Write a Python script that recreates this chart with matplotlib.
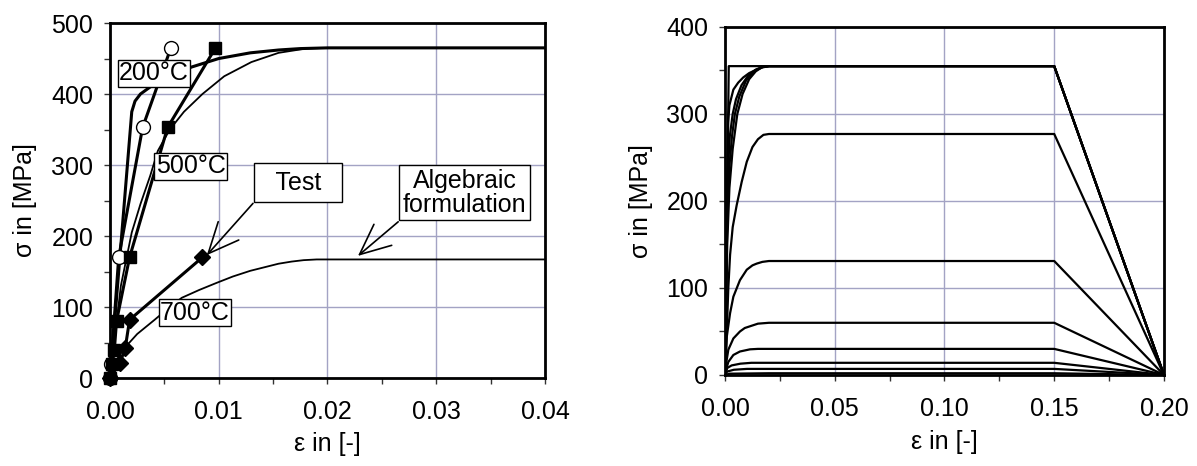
import numpy as np
import matplotlib.pyplot as plt
from matplotlib.ticker import MultipleLocator, FormatStrFormatter

plt.rcParams['font.family'] = ['Liberation Sans', 'DejaVu Sans']
plt.rcParams['font.size'] = 18

# ---- left panel: tests vs algebraic formulation ----
# test data (strain, stress MPa)
test200_eps = [0, 0.0001, 0.0008, 0.0030, 0.0056]
test200_sig = [0, 20, 170, 353, 465]
test500_eps = [0, 0.0002, 0.0004, 0.0006, 0.0018, 0.0053, 0.0097]
test500_sig = [0, 20, 40, 80, 170, 353, 465]
test700_eps = [0, 0.0009, 0.0014, 0.0018, 0.0085]
test700_sig = [0, 21, 42, 82, 170]

# algebraic formulation curves
alg200_eps = [0, 0.0020, 0.0023, 0.0028, 0.0037, 0.0050, 0.0075, 0.0100, 0.0129, 0.0155, 0.0175, 0.0200, 0.0400]
alg200_sig = [0, 375, 390, 400, 410, 422, 438, 450, 458, 462, 464, 465, 465]
alg500_eps = [0, 0.0010, 0.0020, 0.0028, 0.0037, 0.0044, 0.0055, 0.0068, 0.0085, 0.0105, 0.0130, 0.0155, 0.0180, 0.0200, 0.0400]
alg500_sig = [0, 130, 205, 245, 285, 320, 350, 375, 400, 425, 445, 458, 464, 465, 465]
alg700_eps = [0, 0.0004, 0.0012, 0.0025, 0.0041, 0.0055, 0.0066, 0.0082, 0.0098, 0.0113, 0.0129, 0.0142, 0.0155, 0.0167, 0.0178, 0.0190, 0.0200, 0.0400]
alg700_sig = [0, 20, 40, 62, 82, 100, 113, 124, 134, 143, 151, 156, 161, 164, 166, 167, 167, 167]

# ---- right panel: stress-strain family ----
tail_eps = [0.15, 0.20]
right_curves = [
    ([0, 0.0017, 0.02], [0, 355, 355]),
    ([0, 0.0014, 0.0020, 0.0038, 0.0060, 0.0083, 0.0110, 0.0144, 0.0170, 0.0200],
     [0, 290, 310, 328, 336, 342, 347, 351, 353.5, 355]),
    ([0, 0.0012, 0.0022, 0.0035, 0.0050, 0.0075, 0.0105, 0.0140, 0.0170, 0.0200],
     [0, 230, 275, 300, 317, 333, 344, 351, 354, 355]),
    ([0, 0.0010, 0.0020, 0.0032, 0.0045, 0.0065, 0.0095, 0.0130, 0.0170, 0.0200],
     [0, 180, 240, 275, 300, 320, 338, 349, 354, 355]),
    ([0, 0.0010, 0.0020, 0.0035, 0.0056, 0.0080, 0.0110, 0.0140, 0.0170, 0.0200],
     [0, 150, 215, 260, 300, 323, 340, 349, 354, 355]),
    ([0, 0.0008, 0.0015, 0.0023, 0.0035, 0.0053, 0.0076, 0.0099, 0.0125, 0.0150, 0.0175, 0.0200],
     [0, 50, 100, 138, 170, 195, 222, 245, 262, 271, 276, 277]),
    ([0, 0.0008, 0.0023, 0.0038, 0.0068, 0.0099, 0.0125, 0.0144, 0.0170, 0.0200],
     [0, 44, 71, 90, 109, 121, 126, 128, 130, 131]),
    ([0, 0.0005, 0.0015, 0.0038, 0.0068, 0.0090, 0.0114, 0.0150, 0.0200],
     [0, 13, 29, 42, 50, 54, 56, 59, 60]),
    ([0, 0.0005, 0.0015, 0.0038, 0.0068, 0.0114, 0.0150, 0.0200],
     [0, 6, 15, 23, 27, 29.5, 30, 30]),
    ([0, 0.0010, 0.0030, 0.0070, 0.0120, 0.0200],
     [0, 8, 11, 13, 14, 14]),
    ([0, 0.0010, 0.0040, 0.0100, 0.0200],
     [0, 4, 6, 7, 7]),
    ([0, 0.0020, 0.0200],
     [0, 1.5, 2]),
]

grid_col = '#a3a3c4'

fig = plt.figure(figsize=(11.97, 4.66), dpi=100)
ax1 = fig.add_axes([0.0919, 0.1888, 0.3634, 0.7618])
ax2 = fig.add_axes([0.6057, 0.1953, 0.3667, 0.7468])


def style_axes(ax, xmaj, xmin, ymaj, ymin, fmt):
    ax.set_axisbelow(True)
    ax.grid(True, which='major', color=grid_col, linewidth=1.0)
    ax.xaxis.set_major_locator(MultipleLocator(xmaj))
    ax.xaxis.set_minor_locator(MultipleLocator(xmin))
    ax.yaxis.set_major_locator(MultipleLocator(ymaj))
    ax.yaxis.set_minor_locator(MultipleLocator(ymin))
    ax.xaxis.set_major_formatter(FormatStrFormatter(fmt))
    ax.tick_params(which='both', direction='out', length=4, width=1, color='#333333')
    ax.tick_params(axis='x', which='major', pad=12)
    ax.tick_params(axis='y', which='major', pad=8)
    for s in ax.spines.values():
        s.set_linewidth(2)
        s.set_color('black')


# left panel
ax1.plot(alg700_eps, alg700_sig, color='black', lw=1.3)
ax1.plot(alg500_eps, alg500_sig, color='black', lw=1.3)
ax1.plot(alg200_eps, alg200_sig, color='black', lw=2.2)
ax1.plot(test200_eps, test200_sig, color='black', lw=2.2, marker='o', ms=10,
         mfc='white', mec='black', mew=1, clip_on=False, zorder=3.5)
ax1.plot(test500_eps, test500_sig, color='black', lw=2.2, marker='s', ms=8,
         mfc='black', mec='black', clip_on=False, zorder=4)
ax1.plot(test700_eps, test700_sig, color='black', lw=2.2, marker='D', ms=8,
         mfc='black', mec='black', clip_on=False, zorder=4.5)

ax1.set_xlim(0, 0.04)
ax1.set_ylim(0, 500)
style_axes(ax1, 0.01, 0.005, 100, 50, '%.2f')
ax1.set_xlabel('ε in [-]')
ax1.set_ylabel('σ in [MPa]')
ax1.xaxis.set_label_coords(0.5, -0.152)
ax1.yaxis.set_label_coords(-0.168, 0.5)

box = dict(boxstyle='square,pad=0.05', fc='white', ec='black', lw=1)
ax1.text(0.00405, 429, '200°C', ha='center', va='center', bbox=box, zorder=6)
ax1.text(0.0074, 298, '500°C', ha='center', va='center', bbox=box, zorder=6)
ax1.text(0.0078, 92, '700°C', ha='center', va='center', bbox=box, zorder=6)

ax1.text(0.0173, 275, '  Test  ', ha='center', va='center',
         bbox=dict(boxstyle='square,pad=0.3', fc='white', ec='black', lw=1), zorder=6)
ax1.text(0.0326, 261, 'Algebraic\nformulation', ha='center', va='center',
         linespacing=1.0, bbox=dict(boxstyle='square,pad=0.15', fc='white', ec='black', lw=1), zorder=6)

arrow = dict(arrowstyle='->,head_length=1.0,head_width=0.45', color='black', lw=1.2,
             shrinkA=0, shrinkB=0, mutation_scale=22)
ax1.annotate('', xy=(0.0089, 173), xytext=(0.01315, 246), arrowprops=arrow, zorder=6)
ax1.annotate('', xy=(0.0228, 172), xytext=(0.0265, 220), arrowprops=arrow, zorder=6)

# right panel
for eps, sig in right_curves:
    ax2.plot(eps + tail_eps, sig + [sig[-1], 0], color='black', lw=1.6)

ax2.set_xlim(0, 0.20)
ax2.set_ylim(0, 400)
style_axes(ax2, 0.05, 0.025, 100, 50, '%.2f')
ax2.set_xlabel('ε in [-]')
ax2.set_ylabel('σ in [MPa]')
ax2.xaxis.set_label_coords(0.5, -0.158)
ax2.yaxis.set_label_coords(-0.164, 0.5)

plt.savefig('out.png', dpi=100)
